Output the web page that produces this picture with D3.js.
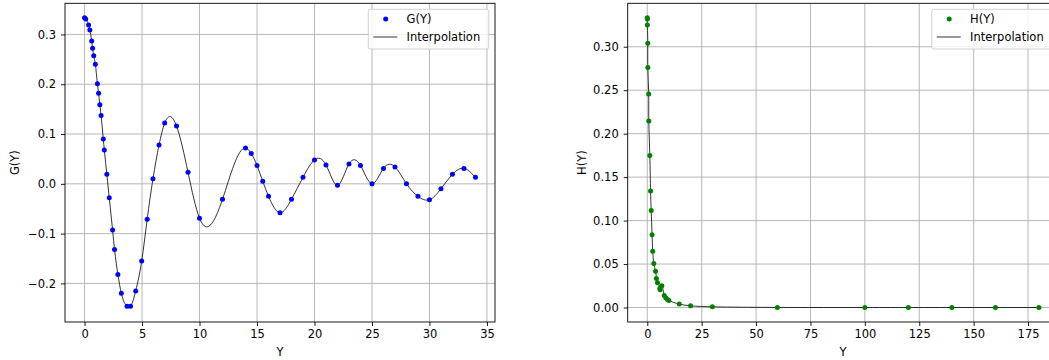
<!DOCTYPE html>
<html><head><meta charset="utf-8">
<script src="https://cdn.jsdelivr.net/npm/d3@7"></script>
<style>body{margin:0;background:#fff}svg{display:block}text{font-family:"DejaVu Sans",sans-serif;font-size:11.5px;fill:#000}</style>
</head><body><svg id="c" width="1049" height="360"></svg>
<script>
// ---- data: G(Y) ----
const gY = [0, 0.1, 0.35, 0.46, 0.62, 0.7, 0.8, 0.94, 1.12, 1.22, 1.33, 1.44, 1.63, 1.72, 1.94, 2.15, 2.44, 2.61, 2.9, 3.2, 3.7, 4.0, 4.45, 4.97, 5.45, 5.95, 6.48, 6.97, 8.0, 9.0, 10.0, 12.0, 14.0, 14.5, 15.0, 15.5, 16.0, 17.0, 18.0, 19.0, 20.0, 21.0, 22.0, 23.0, 24.0, 25.0, 26.0, 27.0, 28.0, 29.0, 30.0, 31.0, 32.0, 33.0, 34.0];
const gV = [0.3333, 0.331, 0.319, 0.309, 0.287, 0.272, 0.257, 0.240, 0.201, 0.182, 0.159, 0.137, 0.090, 0.068, 0.019, -0.028, -0.093, -0.132, -0.182, -0.220, -0.246, -0.246, -0.215, -0.155, -0.071, 0.010, 0.078, 0.122, 0.116, 0.023, -0.069, -0.031, 0.072, 0.061, 0.037, 0.005, -0.025, -0.058, -0.031, 0.013, 0.048, 0.038, -0.003, 0.040, 0.037, 0.0, 0.031, 0.034, 0.0, -0.025, -0.032, -0.010, 0.019, 0.031, 0.013];
// ---- data: H(Y) ----
const hY = [0, 0.02, 0.05, 0.23, 0.25, 0.65, 0.7, 1.17, 1.5, 1.8, 2.2, 2.5, 3.0, 3.8, 4.2, 4.7, 5.8, 5.9, 6.7, 7.8, 8.5, 9.3, 9.9, 14.7, 19.9, 29.9, 59.8, 100, 120, 140, 160, 180];
const hV = [0.3333, 0.332, 0.325, 0.304, 0.276, 0.2456, 0.2146, 0.175, 0.134, 0.1115, 0.0836, 0.0648, 0.0506, 0.0418, 0.0333, 0.0284, 0.0223, 0.0205, 0.0249, 0.0138, 0.0111, 0.0092, 0.0080, 0.0039, 0.0020, 0.0008, 0.0001, 0.0, 0.0, 0.0, 0.0, 0.0];
// ---- ticks ----
const gXTicks = [0, 5, 10, 15, 20, 25, 30, 35];
const gYTicks = [-0.2, -0.1, 0.0, 0.1, 0.2, 0.3];
const hXTicks = [0, 25, 50, 75, 100, 125, 150, 175];
const hYTicks = [0, 0.05, 0.10, 0.15, 0.20, 0.25, 0.30];

// d3 curve factory: natural cubic spline parameterised by x (like scipy's cubic interpolation)
function curveSplineX(context){ return {
  lineStart(){ this._x=[]; this._y=[]; },
  point(x,y){ this._x.push(+x); this._y.push(+y); },
  lineEnd(){
    const X=this._x, Y=this._y, n=X.length;
    if(!n) return;
    context.moveTo(X[0],Y[0]);
    if(n<3){ for(let i=1;i<n;i++) context.lineTo(X[i],Y[i]); return; }
    const h=[], M=new Array(n).fill(0);
    for(let i=0;i<n-1;i++) h.push(X[i+1]-X[i]);
    const a=[],b=[],c=[],r=[];
    for(let i=1;i<n-1;i++){
      a.push(h[i-1]); b.push(2*(h[i-1]+h[i])); c.push(h[i]);
      r.push(6*((Y[i+1]-Y[i])/h[i]-(Y[i]-Y[i-1])/h[i-1]));
    }
    const m=r.length;
    for(let i=1;i<m;i++){ const w=a[i]/b[i-1]; b[i]-=w*c[i-1]; r[i]-=w*r[i-1]; }
    const s=new Array(m); s[m-1]=r[m-1]/b[m-1];
    for(let i=m-2;i>=0;i--) s[i]=(r[i]-c[i]*s[i+1])/b[i];
    for(let i=0;i<m;i++) M[i+1]=s[i];
    for(let i=0;i<n-1;i++){
      const hi=h[i], sl=(Y[i+1]-Y[i])/hi;
      const d0=sl-hi*(2*M[i]+M[i+1])/6, d1=sl+hi*(M[i]+2*M[i+1])/6;
      context.bezierCurveTo(X[i]+hi/3, Y[i]+d0*hi/3, X[i+1]-hi/3, Y[i+1]-d1*hi/3, X[i+1], Y[i+1]);
    }
  }
};}

const svg = d3.select("#c");
svg.append("rect").attr("width",1049).attr("height",360).attr("fill","#fff");
const minus = s => s.replace("-", "\u2212");
const FS = 11.5;

function panel(o){
  const g = svg.append("g");
  const x = d3.scaleLinear().domain(o.xd).range([o.l, o.r]);
  const y = d3.scaleLinear().domain(o.yd).range([o.b, o.t]);
  g.append("g").selectAll("line").data(o.xt).join("line")
    .attr("x1",d=>x(d)).attr("x2",d=>x(d)).attr("y1",o.t).attr("y2",o.b)
    .attr("stroke","#b0b0b0").attr("stroke-width",0.9);
  g.append("g").selectAll("line").data(o.yt).join("line")
    .attr("y1",d=>y(d)).attr("y2",d=>y(d)).attr("x1",o.l).attr("x2",o.r)
    .attr("stroke","#b0b0b0").attr("stroke-width",0.9);
  const data = o.xs.map((v,i)=>[v,o.ys[i]]);
  g.append("path").datum(data)
    .attr("d", d3.line().x(d=>x(d[0])).y(d=>y(d[1])).curve(o.curve))
    .attr("fill","none").attr("stroke","#000").attr("stroke-width",0.8);
  g.append("g").selectAll("circle").data(data).join("circle")
    .attr("cx",d=>x(d[0])).attr("cy",d=>y(d[1])).attr("r",2.5).attr("fill",o.color);
  g.append("rect").attr("x",o.l).attr("y",o.t).attr("width",o.r-o.l).attr("height",o.b-o.t)
    .attr("fill","none").attr("stroke","#000").attr("stroke-width",0.9);
  const xa = g.append("g").attr("transform",`translate(0,${o.b})`)
    .call(d3.axisBottom(x).tickValues(o.xt).tickSize(4).tickPadding(4).tickFormat(d3.format("d")));
  const ya = g.append("g").attr("transform",`translate(${o.l},0)`)
    .call(d3.axisLeft(y).tickValues(o.yt).tickSize(4).tickPadding(5).tickFormat(d=>minus(d3.format(o.yf)(d))));
  [xa,ya].forEach(a=>{
    a.select(".domain").remove();
    a.selectAll(".tick line").attr("stroke","#000").attr("stroke-width",0.9);
    a.selectAll(".tick text").attr("font-family","DejaVu Sans").attr("font-size",FS).attr("fill","#000");
  });
  g.append("text").attr("x",(o.l+o.r)/2).attr("y",356).attr("text-anchor","middle").text("Y");
  g.append("text").attr("transform",`translate(${o.yl},${(o.t+o.b)/2}) rotate(-90)`)
    .attr("text-anchor","middle").attr("dy","0.35em").text(o.ylab);
  const lg = g.append("g").attr("transform",`translate(${o.r-126.7},9.3)`);
  lg.append("rect").attr("width",120.4).attr("height",39.7).attr("rx",2)
    .attr("fill","#fff").attr("fill-opacity",0.8).attr("stroke","#cccccc").attr("stroke-width",0.9);
  lg.append("circle").attr("cx",17.4).attr("cy",9.8).attr("r",2.5).attr("fill",o.color);
  lg.append("line").attr("x1",5).attr("x2",29).attr("y1",27.7).attr("y2",27.7).attr("stroke","#000").attr("stroke-width",0.8);
  lg.append("text").attr("x",38.3).attr("y",9.8).attr("dy","0.35em").text(o.name);
  lg.append("text").attr("x",38.3).attr("y",27.7).attr("dy","0.35em").text("Interpolation");
}

panel({l:65, r:495, t:3.3, b:322, xd:[-1.7,35.7], yd:[-0.2775,0.3625], xs:gY, ys:gV, curve:curveSplineX,
  xt:gXTicks, yt:gYTicks, yf:".1f", color:"#0000ff", name:"G(Y)", ylab:"G(Y)", yl:15});
panel({l:627.7, r:1058.5, t:3.3, b:322, xd:[-9,189], yd:[-0.016667,0.35], xs:hY, ys:hV, curve:d3.curveNatural,
  xt:hXTicks, yt:hYTicks, yf:".2f", color:"#008000", name:"H(Y)", ylab:"H(Y)", yl:581.5});
</script></body></html>
